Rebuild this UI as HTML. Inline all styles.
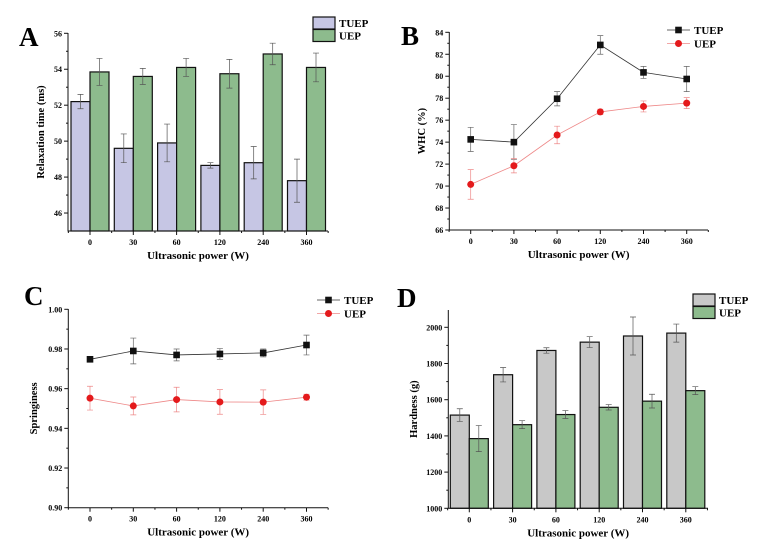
<!DOCTYPE html>
<html><head><meta charset="utf-8"><style>
body{margin:0;background:#fff;}
svg{display:block;font-family:"Liberation Serif",serif;}
</style></head><body>
<svg id="fig" width="761" height="555" viewBox="0 0 761 555" xmlns="http://www.w3.org/2000/svg"></svg>
<script>
const categories = ["0","30","60","120","240","360"];
// Panel A
const aTuep = [52.2,49.6,49.9,48.65,48.8,47.8];
const aTuepErr = [0.4,0.8,1.05,0.15,0.9,1.2];
const aUep = [53.85,53.6,54.1,53.75,54.85,54.1];
const aUepErr = [0.75,0.45,0.5,0.8,0.6,0.8];
const aTicks = [46,48,50,52,54,56];
// Panel B
const bTuep = [74.25,74.0,77.95,82.85,80.35,79.75];
const bTuepErr = [1.1,1.6,0.65,0.85,0.55,1.15];
const bUep = [70.15,71.85,74.65,76.75,77.25,77.55];
const bUepErr = [1.35,0.65,0.8,0.25,0.5,0.5];
const bTicks = [66,68,70,72,74,76,78,80,82,84];
// Panel C
const cTuep = [0.9748,0.979,0.977,0.9775,0.978,0.982];
const cTuepErr = [0.0008,0.0065,0.003,0.0027,0.002,0.005];
const cUep = [0.9552,0.9513,0.9545,0.9533,0.9532,0.9557];
const cUepErr = [0.006,0.0045,0.0062,0.0062,0.0062,0.0015];
const cTicks = [0.90,0.92,0.94,0.96,0.98,1.00];
// Panel D
const dTuep = [1515,1738,1872,1918,1952,1968];
const dTuepErr = [35,40,15,30,105,50];
const dUep = [1385,1462,1518,1558,1592,1650];
const dUepErr = [72,22,22,15,38,22];
const dTicks = [1000,1200,1400,1600,1800,2000];

const NS="http://www.w3.org/2000/svg";
const svg=document.getElementById('fig');
function mk(tag,attrs,parent,text){const e=document.createElementNS(NS,tag);for(const k in attrs)e.setAttribute(k,attrs[k]);if(text!==undefined)e.textContent=text;(parent||svg).appendChild(e);return e;}

function panel(cfg){
  const g=mk('g',{});
  
  
  const y=v=>cfg.y0+(v-cfg.vmin)*(cfg.y1-cfg.y0)/(cfg.vmax-cfg.vmin);
  const x=i=>cfg.x0c+i*cfg.step;
  const base=cfg.y0;
  // bars / lines
  if(cfg.type==='bar'){
    const bw=19;
    [[cfg.s1,cfg.e1,cfg.c1,-1],[cfg.s2,cfg.e2,cfg.c2,0]].forEach(([s,e,c,off],si)=>{
      s.forEach((v,i)=>{
        const bx=x(i)+off*bw+(off<0?0:0);
        const left=off<0?x(i)-bw:x(i);
        const r=mk('rect',{x:left,y:y(v),width:bw,height:base-y(v),fill:c,stroke:'#111','stroke-width':1.2},g);
        
        
        const cx=left+bw/2;
        mk('path',{d:`M${cx},${y(v+e[i])}V${y(v-e[i])}M${cx-3},${y(v+e[i])}h6M${cx-3},${y(v-e[i])}h6`,stroke:'#555','stroke-width':0.7,fill:'none'},g);
      });
    });
  } else {
    [[cfg.s1,cfg.e1,'#111','#333','sq'],[cfg.s2,cfg.e2,'#e41a1c','#e88','ci']].forEach(([s,e,c,lc,m],si)=>{
      let d='';
      s.forEach((v,i)=>{d+=(i?'L':'M')+x(i)+','+y(v);});
      const l=mk('path',{d,stroke:lc,'stroke-width':0.8,fill:'none'},g);
      
      
      s.forEach((v,i)=>{
        const cx=x(i);
        mk('path',{d:`M${cx},${y(v+e[i])}V${y(v-e[i])}M${cx-3},${y(v+e[i])}h6M${cx-3},${y(v-e[i])}h6`,stroke:si?'#e88':'#666','stroke-width':0.7,fill:'none'},g);
        let p;
        if(m==='sq')p=mk('rect',{x:cx-3.3,y:y(v)-3.3,width:6.6,height:6.6,fill:c},g);
        else p=mk('circle',{cx,cy:y(v),r:3.5,fill:c},g);
        
        
      });
    });
  }
  // axes
  const ax=mk('path',{d:`M${cfg.ax},${cfg.yTop}V${base}H${cfg.axEnd}`,stroke:'#111','stroke-width':1,fill:'none'},g);
  
  
  cfg.ticks.forEach((t,i)=>{
    const ty=y(t);
    mk('path',{d:`M${cfg.ax-4},${ty}H${cfg.ax}`,stroke:'#111','stroke-width':1},g);
    if(i<cfg.ticks.length-1){const my=y((t+cfg.ticks[i+1])/2);mk('path',{d:`M${cfg.ax-2},${my}H${cfg.ax}`,stroke:'#111','stroke-width':1},g);}
    const tl=mk('text',{x:cfg.ax-6,y:ty+3,'font-size':8,'font-weight':'bold','text-anchor':'end'},g,cfg.fmt(t));
    
    
  });
  categories.forEach((c,i)=>{
    mk('path',{d:`M${x(i)},${base}v4`,stroke:'#111','stroke-width':1},g);
    mk('path',{d:`M${x(i)-cfg.step/2},${base}v2`,stroke:'#111','stroke-width':1},g);
    if(i===categories.length-1)mk('path',{d:`M${x(i)+cfg.step/2},${base}v2`,stroke:'#111','stroke-width':1},g);
    const tl=mk('text',{x:x(i),y:base+14,'font-size':8,'font-weight':'bold','text-anchor':'middle'},g,c);
    
    
  });
  const xt=mk('text',{x:(cfg.ax+cfg.axEnd)/2,y:base+28,'font-size':11,'font-weight':'bold','text-anchor':'middle'},g,'Ultrasonic power (W)');
  
  
  const yt=mk('text',{x:0,y:0,'font-size':10.5,'font-weight':'bold','text-anchor':'middle',transform:`translate(${cfg.ytx},${(cfg.yTop+base)/2}) rotate(-90)`},g,cfg.ytitle);
  
  
  const lab=mk('text',{x:cfg.lx,y:cfg.ly,'font-size':27,'font-weight':'bold'},g,cfg.id.toUpperCase());
  
  
  // legend
  const names=['TUEP','UEP'];
  names.forEach((n,i)=>{
    const le=mk('g',{},g);
    
    
    if(cfg.type==='bar'){
      mk('rect',{x:cfg.legx,y:cfg.legy+i*12.5,width:22,height:12,fill:i?cfg.c2:cfg.c1,stroke:'#111','stroke-width':1.2},le);
      mk('text',{x:cfg.legx+26,y:cfg.legy+i*12.5+10,'font-size':11,'font-weight':'bold'},le,n);
    } else {
      const ly=cfg.legy+i*13.5;
      mk('path',{d:`M${cfg.legx},${ly}h23`,stroke:i?'#e88':'#333','stroke-width':0.8},le);
      if(i)mk('circle',{cx:cfg.legx+11.5,cy:ly,r:3.5,fill:'#e41a1c'},le);
      else mk('rect',{x:cfg.legx+8.2,y:ly-3.3,width:6.6,height:6.6,fill:'#111'},le);
      mk('text',{x:cfg.legx+27,y:ly+4,'font-size':11,'font-weight':'bold'},le,n);
    }
  });
}

panel({id:'a',type:'bar',s1:aTuep,e1:aTuepErr,s2:aUep,e2:aUepErr,c1:'#c6c6e4',c2:'#8dbb8d',ticks:aTicks,
  vmin:45,vmax:56,y0:231,y1:33.3,yTop:33,x0c:90,step:43.3,ax:68,axEnd:328,fmt:v=>String(v),
  ytitle:'Relaxation time (ms)',ytx:44,lx:19,ly:46,legx:313,legy:17});
panel({id:'b',type:'line',s1:bTuep,e1:bTuepErr,s2:bUep,e2:bUepErr,ticks:bTicks,
  vmin:66,vmax:84,y0:230,y1:32.3,yTop:32,x0c:470.7,step:43.2,ax:449.3,axEnd:708,fmt:v=>String(v),
  ytitle:'WHC (%)',ytx:425,lx:401,ly:45,legx:667,legy:30});
panel({id:'c',type:'line',s1:cTuep,e1:cTuepErr,s2:cUep,e2:cUepErr,ticks:cTicks,
  vmin:0.90,vmax:1.00,y0:507.7,y1:309.3,yTop:309,x0c:90,step:43.3,ax:68.3,axEnd:328,fmt:v=>v.toFixed(2),
  ytitle:'Springiness',ytx:37,lx:24,ly:305,legx:317,legy:300});
panel({id:'d',type:'bar',s1:dTuep,e1:dTuepErr,s2:dUep,e2:dUepErr,c1:'#c8c8c8',c2:'#8dbb8d',ticks:dTicks,
  vmin:1000,vmax:2000,y0:508.3,y1:327.3,yTop:310,x0c:469.3,step:43.3,ax:448.3,axEnd:708,fmt:v=>String(v),
  ytitle:'Hardness (g)',ytx:417,lx:397,ly:307,legx:693,legy:294});
</script>
</body></html>
